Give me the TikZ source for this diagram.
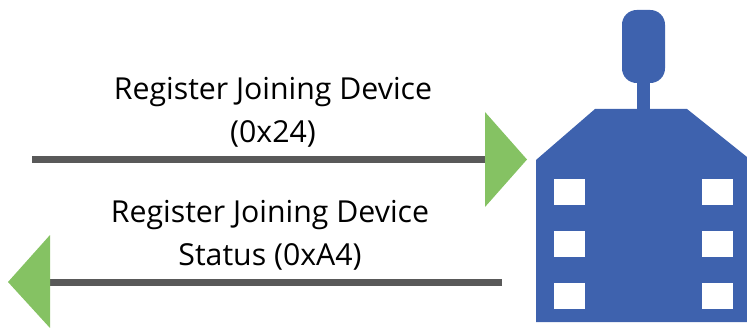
\documentclass[tikz,border=0pt]{standalone}
\usepackage{fontspec}
\setmainfont{Open Sans}
\definecolor{devblue}{HTML}{3E62AE}
\definecolor{arrgreen}{HTML}{85C263}
\definecolor{linegray}{HTML}{595959}
\tikzset{
  msgline/.style={draw=linegray,line width=5.6pt},
  tipshape/.style={fill=arrgreen,draw=none},
  devshape/.style={fill=devblue,draw=none},
  winshape/.style={fill=white,draw=none},
  lbl/.style={font=\fontsize{22.7pt}{32pt}\selectfont,align=center,text=black,inner sep=0pt,anchor=center}
}
\begin{document}
\begin{tikzpicture}[x=0.75pt,y=-0.75pt]
\useasboundingbox (0,0) rectangle (747,328);
% device
\fill[devshape] (637,75) rectangle (650,112);
\fill[devshape,rounded corners=11pt] (622,10) rectangle (665,83);
\fill[devshape] (536,160) -- (595,109) -- (687,109) -- (747,157) -- (747,322) -- (536,322) -- cycle;
\foreach \yy in {179,231,283}{
  \fill[winshape] (554,\yy) rectangle (585,\yy+26);
  \fill[winshape] (702,\yy) rectangle (733,\yy+26);
}
% top arrow
\coordinate (a1) at (32,159.5);
\coordinate (a2) at (486,159.5);
\draw[msgline] (a1) -- (a2);
\fill[tipshape] (485,112) -- (527,159.5) -- (485,207) -- cycle;
\node[lbl] (t1) at (273,112) {Register Joining Device\\(0x24)};
% bottom arrow
\coordinate (b1) at (502,282.5);
\coordinate (b2) at (49,282.5);
\draw[msgline] (b1) -- (b2);
\fill[tipshape] (50,235) -- (8,282) -- (50,328) -- cycle;
\node[lbl] (t2) at (270,235) {Register Joining Device\\Status (0xA4)};
\end{tikzpicture}
\end{document}
